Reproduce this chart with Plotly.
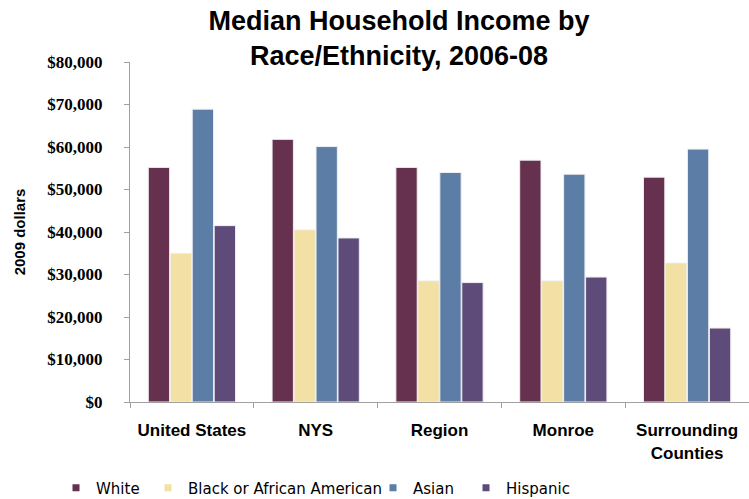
import plotly.graph_objects as go

# categories and values (2009 dollars)
places = ["United States", "NYS", "Region", "Monroe", "Surrounding<br>Counties"]
white = [55200, 61800, 55200, 56900, 52900]
black = [35000, 40500, 28500, 28500, 32700]
asian = [68900, 60100, 54000, 53600, 59500]
hispanic = [41500, 38600, 28100, 29400, 17400]

series = [
    ("White", white, "#65314e", "legend", 56),
    ("Black or African American", black, "#f3e0a4", "legend2", 148),
    ("Asian", asian, "#5c7ea6", "legend3", 373),
    ("Hispanic", hispanic, "#5e4b79", "legend4", 466),
]

W, H = 749, 499
fig = go.Figure()

for name, vals, col, leg, lx in series:
    fig.add_trace(go.Bar(
        x=places, y=vals, name=name, showlegend=False,
        marker=dict(color=col, line=dict(color="#eeeeee", width=1)),
    ))
    # small square marker for the legend entry
    fig.add_trace(go.Scatter(
        x=[None], y=[None], mode="markers", name=name, legend=leg,
        marker=dict(symbol="square", size=7, color=col),
    ))

font = "Liberation Sans, Arial, sans-serif"
legends = {}
for name, vals, col, leg, lx in series:
    legends[leg] = dict(
        x=lx / W, y=11 / H, xref="container", yref="container",
        xanchor="left", yanchor="middle",
        orientation="h", itemwidth=30, bgcolor="rgba(0,0,0,0)",
        font=dict(family="DejaVu Sans, sans-serif", size=15, color="#000000"),
    )

fig.update_layout(
    width=W, height=H,
    margin=dict(l=130, r=0, t=62, b=97, autoexpand=False),
    paper_bgcolor="white", plot_bgcolor="white",
    barmode="group", bargap=0.29, bargroupgap=0.03,
    title=dict(
        text="<b>Median Household Income by<br>Race/Ethnicity, 2006-08</b>",
        x=399 / W, xanchor="center", xref="container",
        y=1.0, yanchor="top", yref="container", pad=dict(t=30),
        font=dict(family=font, size=27, color="#000000"),
    ),
    font=dict(family=font, color="#000000"),
    **legends,
)

fig.update_xaxes(
    showline=True, linecolor="#a0a0a0", linewidth=1,
    ticks="outside", tickson="boundaries", ticklen=5, tickcolor="#a0a0a0",
    tickfont=dict(family=font, size=17, color="#000000", weight="bold"),
    ticklabelstandoff=13, showgrid=False, range=[-0.5, 4.5],
)
fig.update_yaxes(
    range=[0, 80000], dtick=10000, tickprefix="$", tickformat=",d",
    showline=True, linecolor="#a0a0a0", linewidth=1,
    ticks="outside", ticklen=5, tickcolor="#a0a0a0",
    tickfont=dict(family="Liberation Serif, Times New Roman, serif", size=17,
                  color="#000000", weight="bold"),
    ticklabelstandoff=18, showgrid=False, zeroline=False,
    title=dict(text="<b>2009 dollars</b>", font=dict(family=font, size=15, color="#000000"), standoff=18),
)

# drop the page's default body margin so the figure sits at the window's corner
fig.write_html("out.html", config={"displayModeBar": False},
               post_script="document.body.style.margin='0';")
